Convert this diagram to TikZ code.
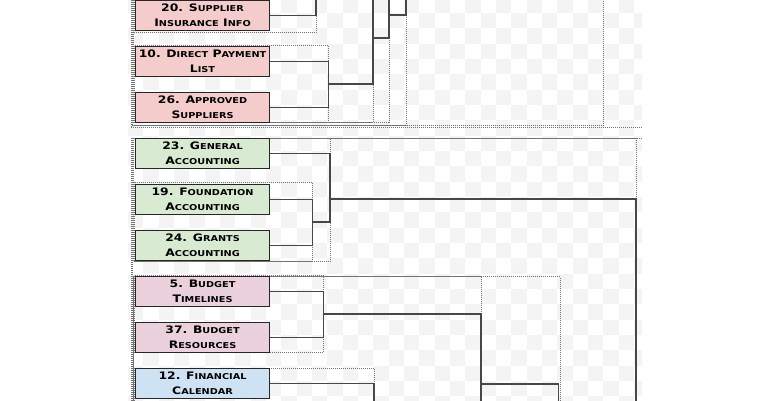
\documentclass[tikz,border=0pt]{standalone}
\usepackage{fontspec}
\newfontfamily\boxfont{DejaVu Sans Bold}[FakeStretch=1.2]
\newcommand\sca[1]{{\fontsize{8.1}{15}\selectfont #1}}
\definecolor{chk}{HTML}{F4F4F4}
\definecolor{pinkA}{HTML}{F4CCCC}
\definecolor{greenA}{HTML}{D9EAD3}
\definecolor{mauveA}{HTML}{EAD1DC}
\definecolor{blueA}{HTML}{CFE2F3}
\tikzset{
  leaf/.style={draw=black!85, line width=1.1pt, minimum width=134pt, minimum height=30pt,
    inner sep=0pt, anchor=north west, align=center, font=\boxfont\fontsize{10.3}{15}\selectfont},
  conn/.style={draw=black!72, line width=1.2pt},
  clus/.style={draw=black!55, line width=1pt, dash pattern=on 1pt off 1pt}
}
\begin{document}
\begin{tikzpicture}[x=1pt,y=-1pt]
\useasboundingbox (0,0) rectangle (770,400);
\fill[white] (0,0) rectangle (770,400);
\begin{scope}
\clip (128,0) rectangle (642,400);
% checkerboard
\foreach \c in {0,...,33}{\foreach \r in {0,...,26}{%
  \pgfmathtruncatemacro\pp{mod(\c+\r,2)}%
  \ifnum\pp=0 \fill[chk] ({128+\c*15.333},{-2.333+\r*15.333}) rectangle ++(15.333,15.333);\fi}}
% cluster regions
\draw[clus] (134,-200) rectangle (316,32.3);
\draw[clus] (134,45.7) rectangle (328.5,122);
\draw[clus] (133.5,-200) rectangle (373,122.3);
\draw[clus] (133,-200) rectangle (389,122.6);
\draw[clus] (132.5,-200) rectangle (406,125);
\draw[clus] (132,-200) rectangle (603,125.5);
\draw[clus] (131,-200) rectangle (700,127.7);
\draw[clus] (134,182.3) rectangle (312.5,261);
\draw[clus] (133.5,138.3) rectangle (330,261.7);
\draw[clus] (132.5,138.3) rectangle (636,500);
\draw[clus] (131.5,138.3) rectangle (700,500);
\draw[clus] (134.5,275.7) rectangle (323.5,352.3);
\draw[clus] (134.5,368) rectangle (374,500);
\draw[clus] (133.5,276) rectangle (481,500);
\draw[clus] (133,276.5) rectangle (560,500);
% leaves
\node[leaf, fill=pinkA] (b20) at (135,0) {20. S\sca{UPPLIER}\\I\sca{NSURANCE} I\sca{NFO}};
\node[leaf, fill=pinkA] (b10) at (135,46) {10. D\sca{IRECT} P\sca{AYMENT}\\L\sca{IST}};
\node[leaf, fill=pinkA] (b26) at (135,92) {26. A\sca{PPROVED}\\S\sca{UPPLIERS}};
\node[leaf, fill=greenA] (b23) at (135,138) {23. G\sca{ENERAL}\\A\sca{CCOUNTING}};
\node[leaf, fill=greenA] (b19) at (135,184) {19. F\sca{OUNDATION}\\A\sca{CCOUNTING}};
\node[leaf, fill=greenA] (b24) at (135,230) {24. G\sca{RANTS}\\A\sca{CCOUNTING}};
\node[leaf, fill=mauveA] (b5) at (135,276) {5. B\sca{UDGET}\\T\sca{IMELINES}};
\node[leaf, fill=mauveA] (b37) at (135,322) {37. B\sca{UDGET}\\R\sca{ESOURCES}};
\node[leaf, fill=blueA] (b12) at (135,368) {12. F\sca{INANCIAL}\\C\sca{ALENDAR}};
% merge points
\coordinate (pQ) at (269,-77);
\coordinate (pP) at (269,-31);
\coordinate (m1) at (316,-8);
\coordinate (m2) at (328.5,84);
\coordinate (m3) at (373,38);
\coordinate (m4) at (389,15);
\coordinate (m5) at (406,-60);
\coordinate (g1) at (312.5,222);
\coordinate (g2) at (330,199);
\coordinate (g3) at (636,460);
\coordinate (k1) at (323.5,314);
\coordinate (c1) at (374,429);
\coordinate (cL) at (374,460);
\coordinate (k2) at (481,384);
\coordinate (k3) at (558.5,460);
% connectors
\draw[conn] (pP) -| (m1) |- (b20.east);
\draw[conn] (b10.east) -| (m2) |- (b26.east);
\draw[conn] (m1) -| (m3) |- (m2);
\draw[conn] (pQ) -| (m4) |- (m3);
\draw[conn] (m4) -| (m5);
\draw[conn] (b19.east) -| (g1) |- (b24.east);
\draw[conn] (b23.east) -| (g2) |- (g1);
\draw[conn] (g2) -| (g3);
\draw[conn] (b5.east) -| (k1) |- (b37.east);
\draw[conn] (b12.east) -| (cL);
\draw[conn] (k1) -| (k2) |- (c1);
\draw[conn] (k2) -| (k3);
\end{scope}
\end{tikzpicture}
\end{document}
